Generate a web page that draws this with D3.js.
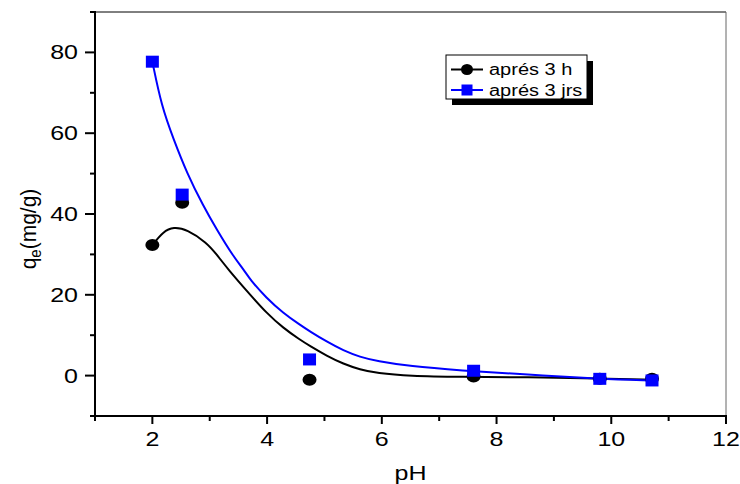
<!DOCTYPE html>
<html>
<head>
<meta charset="utf-8">
<script src="https://cdn.jsdelivr.net/npm/d3@7"></script>
<style>
  html, body { margin: 0; padding: 0; background: #fff; }
  svg { display: block; font-family: "Liberation Sans", Arial, sans-serif; }
</style>
</head>
<body>
<svg id="chart" width="740" height="484"></svg>
<script>
// Measured adsorption capacity versus pH
const pH = [2.0, 2.52, 4.74, 7.6, 9.8, 10.71];
const qe3h = [32.3, 42.8, -1.0, -0.2, -0.8, -0.8];
const qe3jrs = [77.7, 44.8, 4.0, 1.2, -0.8, -1.2];

// Smoothed fit curves through each series
const fit3hPH = [2.0, 2.19, 2.37, 2.6, 2.95, 3.12, 3.32, 3.70, 3.99, 4.28, 4.57, 4.75, 5.04, 5.33, 5.62, 5.91, 6.49, 7.36, 8.53, 9.8, 10.7];
const fit3hQ  = [32.3, 35.7, 36.8, 36.2, 32.9, 30.0, 26.3, 20.1, 15.5, 11.8, 8.9, 7.3, 4.9, 2.9, 1.5, 0.6, -0.1, -0.3, -0.4, -0.7, -1.0];
const fit3jrsPH = [2.0, 2.16, 2.37, 2.6, 2.89, 3.12, 3.41, 3.59, 3.70, 3.99, 4.28, 4.57, 4.75, 5.04, 5.33, 5.62, 5.91, 6.49, 7.36, 8.53, 9.8, 10.7];
const fit3jrsQ  = [77.7, 66.7, 58.5, 50.2, 41.9, 36.2, 29.5, 26.3, 23.8, 19.2, 15.5, 12.6, 10.9, 8.4, 6.2, 4.6, 3.6, 2.3, 1.3, 0.25, -0.8, -1.2];

// Axis ticks
const xMajor = [2, 4, 6, 8, 10, 12];
const xMinor = [1, 3, 5, 7, 9, 11];
const yMajor = [0, 20, 40, 60, 80];
const yMinor = [-10, 10, 30, 50, 70, 90];

const seriesNames = ["aprés 3 h", "aprés 3 jrs"];
const seriesColors = ["#000000", "#0000ff"];

const svg = d3.select("#chart");
const plotL = 95, plotR = 726, plotT = 12, plotB = 416;
const sx = 1.25; // horizontal glyph stretch

const x = d3.scaleLinear().domain([1, 12]).range([plotL, plotR]);
const y = d3.scaleLinear().domain([-10, 90]).range([plotB, plotT]);

// Frame: top and right borders
svg.append("line").attr("x1", plotL).attr("x2", plotR).attr("y1", plotT).attr("y2", plotT)
  .attr("stroke", "#000").attr("stroke-width", 1);
svg.append("line").attr("x1", plotR).attr("x2", plotR).attr("y1", plotT).attr("y2", plotB)
  .attr("stroke", "#666").attr("stroke-width", 1);

// Bottom axis
const xAxis = svg.append("g").attr("transform", `translate(0,${plotB})`);
xAxis.append("line").attr("x1", plotL - 1).attr("x2", plotR + 1).attr("stroke", "#000").attr("stroke-width", 2);
xAxis.selectAll(".xmaj").data(xMajor).join("line")
  .attr("x1", d => x(d)).attr("x2", d => x(d)).attr("y1", 0).attr("y2", 8)
  .attr("stroke", "#000").attr("stroke-width", 2);
xAxis.selectAll(".xmin").data(xMinor).join("line")
  .attr("x1", d => x(d)).attr("x2", d => x(d)).attr("y1", 0).attr("y2", 5)
  .attr("stroke", "#000").attr("stroke-width", 2);
xAxis.selectAll(".xlab").data(xMajor).join("text")
  .attr("transform", d => `translate(${x(d)},30) scale(${sx},1)`)
  .attr("text-anchor", "middle").attr("font-size", 20).attr("fill", "#000")
  .text(d => d);

// Left axis
const yAxis = svg.append("g").attr("transform", `translate(${plotL},0)`);
yAxis.append("line").attr("y1", plotT - 1).attr("y2", plotB + 1).attr("stroke", "#000").attr("stroke-width", 2);
yAxis.selectAll(".ymaj").data(yMajor).join("line")
  .attr("y1", d => y(d)).attr("y2", d => y(d)).attr("x1", 0).attr("x2", -10)
  .attr("stroke", "#000").attr("stroke-width", 2);
yAxis.selectAll(".ymin").data(yMinor).join("line")
  .attr("y1", d => y(d)).attr("y2", d => y(d)).attr("x1", 0).attr("x2", -5)
  .attr("stroke", "#000").attr("stroke-width", 2);
yAxis.selectAll(".ylab").data(yMajor).join("text")
  .attr("transform", d => `translate(-17,${y(d) + 7}) scale(${sx},1)`)
  .attr("text-anchor", "end").attr("font-size", 20).attr("fill", "#000")
  .text(d => d);

// Axis titles
svg.append("text")
  .attr("transform", `translate(${(plotL + plotR) / 2},480) scale(${sx},1)`)
  .attr("text-anchor", "middle").attr("font-size", 20).text("pH");

const yt = svg.append("text")
  .attr("transform", "translate(36,229) scale(1.08,1) rotate(-90)")
  .attr("text-anchor", "middle").attr("font-size", 21);
yt.append("tspan").text("q");
yt.append("tspan").attr("font-size", 15).attr("dy", 5).text("e");
yt.append("tspan").attr("dy", -5).text("(mg/g)");

// Fit curves
const line = d3.line().x(d => x(d[0])).y(d => y(d[1])).curve(d3.curveBasis);
svg.append("path").datum(d3.zip(fit3hPH, fit3hQ)).attr("d", line)
  .attr("fill", "none").attr("stroke", seriesColors[0]).attr("stroke-width", 2);
svg.append("path").datum(d3.zip(fit3jrsPH, fit3jrsQ)).attr("d", line)
  .attr("fill", "none").attr("stroke", seriesColors[1]).attr("stroke-width", 2);

// Data markers
svg.selectAll(".c3h").data(d3.zip(pH, qe3h)).join("ellipse")
  .attr("cx", d => x(d[0])).attr("cy", d => y(d[1])).attr("rx", 7).attr("ry", 6)
  .attr("fill", seriesColors[0]);
svg.selectAll(".s3j").data(d3.zip(pH, qe3jrs)).join("rect")
  .attr("x", d => x(d[0]) - 6.5).attr("y", d => y(d[1]) - 6).attr("width", 13).attr("height", 12)
  .attr("fill", seriesColors[1]);

// Legend with drop shadow
const lg = svg.append("g").attr("transform", "translate(446,55)");
lg.append("rect").attr("x", 6).attr("y", 6).attr("width", 141).attr("height", 44).attr("fill", "#000");
lg.append("rect").attr("x", 0).attr("y", 0).attr("width", 141).attr("height", 44)
  .attr("fill", "#fff").attr("stroke", "#000").attr("stroke-width", 1);
const rows = [14.5, 35];
seriesNames.forEach((name, i) => {
  const ry = rows[i];
  lg.append("line").attr("x1", 5).attr("x2", 37).attr("y1", ry).attr("y2", ry)
    .attr("stroke", seriesColors[i]).attr("stroke-width", 2);
  if (i === 0) {
    lg.append("ellipse").attr("cx", 21).attr("cy", ry).attr("rx", 6).attr("ry", 5.5).attr("fill", seriesColors[i]);
  } else {
    lg.append("rect").attr("x", 15.5).attr("y", ry - 5.5).attr("width", 11).attr("height", 11).attr("fill", seriesColors[i]);
  }
  lg.append("text").attr("transform", `translate(43,${ry + 5.5}) scale(${sx},1)`)
    .attr("font-size", 16).attr("fill", "#000").text(name);
});
</script>
</body>
</html>
